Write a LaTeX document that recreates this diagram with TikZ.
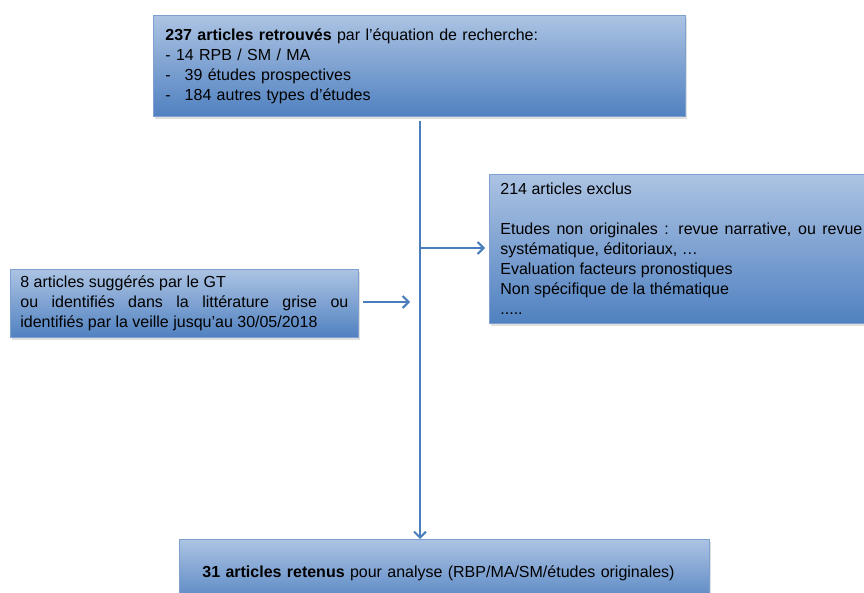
\documentclass[tikz,border=0pt]{standalone}
\usepackage{fontspec}
\setmainfont{Liberation Sans}
\usepackage{tikz}
\usetikzlibrary{positioning}
\usetikzlibrary{arrows.meta}
\usetikzlibrary{shadows}
\definecolor{boxTop}{RGB}{172,195,227}
\definecolor{boxBot}{RGB}{80,129,192}
\definecolor{boxLine}{RGB}{125,160,208}
\definecolor{lineColor}{RGB}{74,126,187}
\hyphenpenalty=10000
\exhyphenpenalty=10000

\begin{document}
\begin{tikzpicture}[x=1pt,y=-1pt,
  flowbox/.style={draw=boxLine, line width=0.8pt, top color=boxTop, bottom color=boxBot,
    drop shadow={opacity=0.25, shadow xshift=1.5pt, shadow yshift=-2.5pt},
    font=\fontsize{16}{20}\selectfont, anchor=north west},
  flowline/.style={lineColor, line width=2.2pt},
  flowarrow/.style={flowline, -{Straight Barb[length=6pt, width=12pt, line width=2pt]}}]
\useasboundingbox (0,0) rectangle (864,593);

\node [flowbox, minimum width=532, minimum height=101, text width=508, inner xsep=12, align=left] (trouves) at (153,15)
  {\textbf{237 articles retrouvés} par l’équation de recherche:\\
   - 14 RPB / SM / MA\\
   -\hspace{14pt}39 études prospectives\\
   -\hspace{14pt}184 autres types d’études};

\node [flowbox, minimum width=384, minimum height=149, text width=362, inner xsep=11, align=justify] (exclus) at (489,174)
  {214 articles exclus\\[20pt]
   Etudes non originales : revue narrative, ou revue systématique, éditoriaux, …\\
   Evaluation facteurs pronostiques\\
   Non spécifique de la thématique\\
   .....};

\node [flowbox, minimum width=348, minimum height=68, text width=328, inner xsep=10, align=justify] (suggeres) at (10,269)
  {8 articles suggérés par le GT\\
   ou identifiés dans la littérature grise ou identifiés par la veille jusqu’au 30/05/2018};

\node [flowbox, minimum width=530, minimum height=68, text width=484, inner xsep=23, align=left] (retenus) at (179,539)
  {\textbf{31 articles retenus} pour analyse (RBP/MA/SM/études originales)};

\coordinate (branche) at (420,248);
\coordinate (jonction) at (410,302);

\draw [flowarrow] (trouves.south -| branche) ++(0,4) -- (retenus.north -| branche);
\draw [flowarrow] (branche) -- ([xshift=-4pt]exclus.west |- branche);
\draw [flowarrow] ([xshift=4pt]suggeres.east |- jonction) -- (jonction);
\end{tikzpicture}
\end{document}
